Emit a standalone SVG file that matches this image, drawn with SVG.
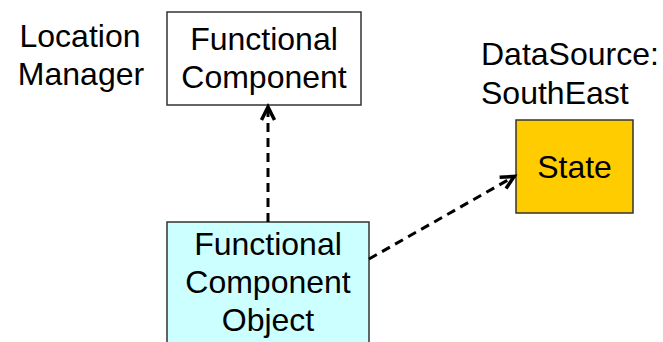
<svg xmlns="http://www.w3.org/2000/svg" width="663" height="342" viewBox="0 0 663 342">
  <style>
    .lbl { font-family: "Liberation Sans", Arial, sans-serif; font-size: 32px; fill: #000; }
    .mid { text-anchor: middle; }
    .box { stroke: #333; stroke-width: 1.5; }
    .dep { fill: none; stroke: #000; stroke-width: 3; stroke-dasharray: 9 6; }
  </style>
  <defs>
    <marker id="vee" markerUnits="userSpaceOnUse" markerWidth="20" markerHeight="20" viewBox="-16 -10 20 20" refX="0" refY="0" orient="auto" overflow="visible">
      <path d="M-14,-6.5 L-1,0 L-14,6.5" fill="none" stroke="#000" stroke-width="3.5" stroke-dasharray="none" stroke-linejoin="miter"/>
    </marker>
  </defs>
  <rect width="663" height="342" fill="#fff"/>

  <!-- free-standing labels -->
  <g id="label-location-manager">
    <text class="lbl mid" x="80" y="47">Location</text>
    <text class="lbl mid" x="81" y="85">Manager</text>
  </g>
  <g id="label-datasource">
    <text class="lbl" x="481" y="65">DataSource:</text>
    <text class="lbl" x="481" y="104">SouthEast</text>
  </g>

  <!-- nodes -->
  <g id="functional-component">
    <rect class="box" x="167" y="12" width="194" height="93" fill="#fff"/>
    <text class="lbl mid" x="264" y="50">Functional</text>
    <text class="lbl mid" x="264" y="88">Component</text>
  </g>
  <g id="functional-component-object">
    <rect class="box" x="167" y="222" width="202" height="140" fill="#ccffff"/>
    <text class="lbl mid" x="268" y="255">Functional</text>
    <text class="lbl mid" x="268" y="293">Component</text>
    <text class="lbl mid" x="268" y="331">Object</text>
  </g>
  <g id="state">
    <rect class="box" x="516" y="120" width="117" height="93" fill="#ffcc00"/>
    <text class="lbl mid" x="574.5" y="178">State</text>
  </g>

  <!-- dependency connectors -->
  <g id="connectors">
    <path class="dep" d="M268,222 L268,106" marker-end="url(#vee)"/>
    <path class="dep" d="M369,259 L515,176" marker-end="url(#vee)"/>
  </g>
</svg>
